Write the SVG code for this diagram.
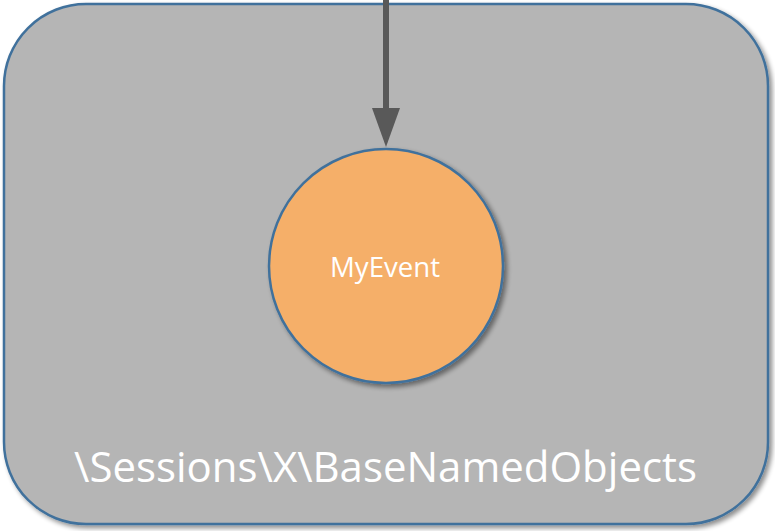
<svg xmlns="http://www.w3.org/2000/svg" width="775" height="531" viewBox="0 0 775 531">
  <style>
    .shape { stroke: #41719C; stroke-width: 2.5; }
    .lbl { font-family: "Open Sans", "Liberation Sans", sans-serif; fill: #FFFFFF; text-anchor: middle; }
  </style>
  <defs>
    <filter id="shadow" x="-10%" y="-10%" width="125%" height="125%">
      <feGaussianBlur in="SourceAlpha" stdDeviation="2.5"/>
      <feOffset dx="3" dy="3" result="b"/>
      <feComponentTransfer><feFuncA type="linear" slope="0.45"/></feComponentTransfer>
      <feMerge><feMergeNode/><feMergeNode in="SourceGraphic"/></feMerge>
    </filter>
    <marker id="arrow" markerUnits="userSpaceOnUse" markerWidth="40" markerHeight="28" refX="0" refY="14" orient="auto">
      <path d="M0,0 L39,14 L0,28 Z" fill="#595959"/>
    </marker>
  </defs>
  <rect width="775" height="531" fill="#FFFFFF"/>
  <g id="namespace">
    <rect class="shape" x="4" y="4" width="764" height="520" rx="82" ry="82" fill="#B5B5B5" filter="url(#shadow)"/>
    <text class="lbl" x="385.5" y="482" font-size="42" textLength="623" lengthAdjust="spacingAndGlyphs">\Sessions\X\BaseNamedObjects</text>
  </g>
  <g id="myevent">
    <circle class="shape" cx="386" cy="266" r="117" fill="#F5AF69" filter="url(#shadow)"/>
    <text class="lbl" x="385" y="277" font-size="27" textLength="110" lengthAdjust="spacingAndGlyphs">MyEvent</text>
  </g>
  <g id="connectors">
    <line x1="386" y1="0" x2="386" y2="108" stroke="#595959" stroke-width="6" marker-end="url(#arrow)"/>
  </g>
</svg>
